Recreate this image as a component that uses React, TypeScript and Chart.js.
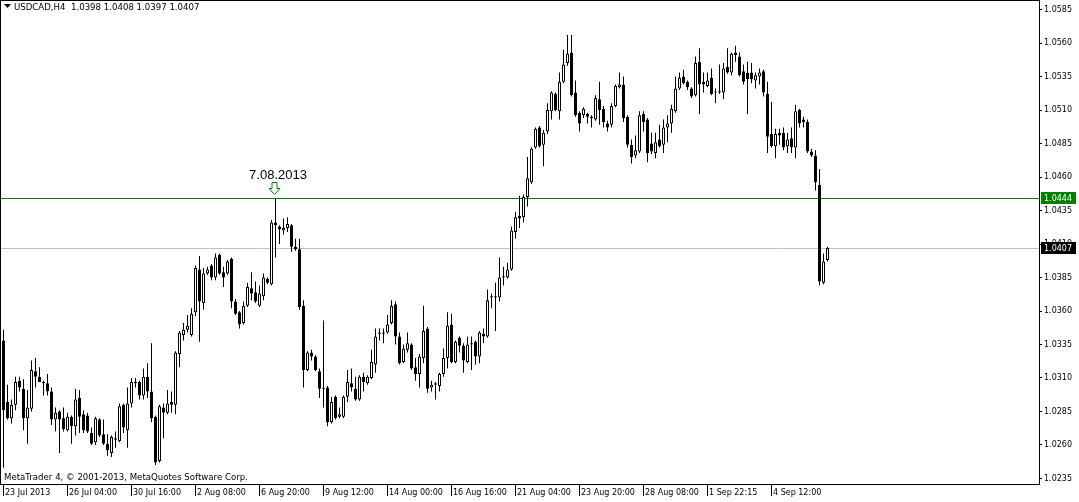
import React, { useEffect, useRef } from "react";
import { Chart, registerables } from "chart.js";

Chart.register(...registerables);

// ---- data -------------------------------------------------------------
const timeLabels = [
  "23 Jul 2013", "26 Jul 04:00", "30 Jul 16:00", "2 Aug 08:00", "6 Aug 20:00",
  "9 Aug 12:00", "14 Aug 00:00", "16 Aug 16:00", "21 Aug 04:00", "23 Aug 20:00",
  "28 Aug 08:00", "1 Sep 22:15", "4 Sep 12:00",
];
const timeLabelBars = [0, 16, 32, 48, 64, 80, 96, 112, 128, 144, 160, 176, 192];

const priceTicks = [
  1.0235, 1.026, 1.0285, 1.031, 1.0335, 1.036, 1.0385, 1.041, 1.0435, 1.046,
  1.0485, 1.051, 1.0535, 1.056, 1.0585,
];

const opens = [
  1.0338,1.0292,1.0280,1.0290,1.0308,1.0302,1.0280,1.0287,1.0315,1.0311,
  1.0307,1.0306,1.0300,1.0279,1.0285,1.0280,1.0271,1.0281,1.0274,1.0295,
  1.0283,1.0282,1.0269,1.0262,1.0279,1.0268,1.0261,1.0254,1.0264,1.0263,
  1.0290,1.0271,1.0291,1.0307,1.0307,1.0297,1.0311,1.0300,1.0281,1.0248,
  1.0288,1.0284,1.0292,1.0290,1.0328,1.0342,1.0346,1.0342,1.0359,1.0391,
  1.0366,1.0388,1.0394,1.0385,1.0402,1.0389,1.0388,1.0399,1.0367,1.0359,
  1.0351,1.0364,1.0377,1.0374,1.0364,1.0371,1.0384,1.0380,1.0426,1.0423,
  1.0420,1.0422,1.0424,1.0408,1.0406,1.0364,1.0316,1.0329,1.0326,1.0315,
  1.0303,1.0303,1.0277,1.0296,1.0281,1.0281,1.0296,1.0306,1.0302,1.0294,
  1.0311,1.0306,1.0310,1.0320,1.0344,1.0344,1.0344,1.0351,1.0365,1.0341,
  1.0322,1.0331,1.0335,1.0318,1.0313,1.0325,1.0347,1.0303,1.0305,1.0304,
  1.0313,1.0325,1.0350,1.0322,1.0340,1.0334,1.0322,1.0335,1.0337,1.0326,
  1.0343,1.0341,1.0370,1.0370,1.0370,1.0385,1.0385,1.0391,1.0419,1.0431,
  1.0430,1.0445,1.0456,1.0482,1.0497,1.0484,1.0494,1.0509,1.0522,1.0509,
  1.0531,1.0545,1.0553,1.0523,1.0508,1.0506,1.0507,1.0505,1.0503,1.0518,
  1.0511,1.0500,1.0499,1.0513,1.0527,1.0529,1.0505,1.0484,1.0476,1.0479,
  1.0507,1.0503,1.0485,1.0478,1.0488,1.0484,1.0497,1.0500,1.0509,1.0526,
  1.0535,1.0531,1.0526,1.0521,1.0546,1.0531,1.0528,1.0534,1.0523,1.0524,
  1.0523,1.0542,1.0538,1.0553,1.0550,1.0539,1.0538,1.0538,1.0532,1.0535,
  1.0539,1.0522,1.0492,1.0483,1.0493,1.0493,1.0483,1.0489,1.0482,1.0510,
  1.0503,1.0501,1.0479,1.0476,1.0454,1.0381,1.0398,
];
const highs = [
  1.0346,1.0305,1.0294,1.0311,1.0311,1.0309,1.0301,1.0323,1.0325,1.0318,
  1.0308,1.0313,1.0303,1.0288,1.0286,1.0288,1.0284,1.0282,1.0302,1.0301,
  1.0286,1.0284,1.0273,1.0281,1.0280,1.0279,1.0268,1.0267,1.0270,1.0291,
  1.0291,1.0303,1.0310,1.0310,1.0308,1.0317,1.0321,1.0336,1.0282,1.0290,
  1.0291,1.0301,1.0300,1.0330,1.0345,1.0351,1.0357,1.0362,1.0394,1.0401,
  1.0392,1.0393,1.0395,1.0403,1.0403,1.0393,1.0398,1.0400,1.0369,1.0360,
  1.0367,1.0381,1.0389,1.0382,1.0379,1.0388,1.0385,1.0428,1.0444,1.0424,
  1.0429,1.0430,1.0425,1.0414,1.0414,1.0368,1.0330,1.0331,1.0327,1.0317,
  1.0353,1.0304,1.0296,1.0297,1.0288,1.0297,1.0316,1.0317,1.0311,1.0312,
  1.0314,1.0312,1.0331,1.0347,1.0347,1.0347,1.0357,1.0368,1.0367,1.0344,
  1.0335,1.0344,1.0336,1.0325,1.0328,1.0364,1.0348,1.0308,1.0307,1.0314,
  1.0332,1.0359,1.0358,1.0338,1.0341,1.0336,1.0341,1.0341,1.0338,1.0345,
  1.0347,1.0376,1.0373,1.0381,1.0400,1.0393,1.0396,1.0423,1.0434,1.0446,
  1.0447,1.0475,1.0482,1.0497,1.0498,1.0495,1.0515,1.0524,1.0523,1.0538,
  1.0555,1.0566,1.0566,1.0532,1.0509,1.0512,1.0508,1.0506,1.0521,1.0531,
  1.0513,1.0502,1.0515,1.0529,1.0538,1.0535,1.0506,1.0488,1.0491,1.0509,
  1.0509,1.0504,1.0493,1.0493,1.0499,1.0503,1.0506,1.0514,1.0535,1.0538,
  1.0540,1.0532,1.0527,1.0550,1.0556,1.0538,1.0538,1.0541,1.0526,1.0544,
  1.0545,1.0556,1.0553,1.0558,1.0553,1.0544,1.0546,1.0545,1.0538,1.0541,
  1.0540,1.0531,1.0516,1.0496,1.0496,1.0497,1.0493,1.0497,1.0514,1.0511,
  1.0505,1.0503,1.0481,1.0480,1.0466,1.0403,1.0408,
];
const lows = [
  1.0243,1.0279,1.0276,1.0286,1.0300,1.0271,1.0261,1.0285,1.0303,1.0307,
  1.0297,1.0297,1.0275,1.0270,1.0254,1.0270,1.0270,1.0261,1.0267,1.0269,
  1.0269,1.0269,1.0260,1.0260,1.0266,1.0260,1.0252,1.0251,1.0258,1.0262,
  1.0269,1.0258,1.0288,1.0303,1.0294,1.0294,1.0295,1.0277,1.0245,1.0247,
  1.0265,1.0283,1.0284,1.0283,1.0318,1.0338,1.0344,1.0341,1.0356,1.0337,
  1.0361,1.0387,1.0383,1.0383,1.0387,1.0378,1.0387,1.0362,1.0357,1.0347,
  1.0350,1.0363,1.0368,1.0366,1.0363,1.0368,1.0380,1.0379,1.0400,1.0410,
  1.0417,1.0419,1.0404,1.0405,1.0361,1.0303,1.0315,1.0323,1.0315,1.0295,
  1.0288,1.0274,1.0276,1.0279,1.0280,1.0280,1.0292,1.0300,1.0293,1.0293,
  1.0300,1.0305,1.0309,1.0314,1.0338,1.0336,1.0343,1.0350,1.0335,1.0320,
  1.0321,1.0329,1.0316,1.0308,1.0303,1.0321,1.0299,1.0300,1.0294,1.0300,
  1.0311,1.0317,1.0321,1.0321,1.0329,1.0314,1.0321,1.0316,1.0320,1.0321,
  1.0336,1.0340,1.0362,1.0345,1.0367,1.0379,1.0384,1.0390,1.0414,1.0422,
  1.0426,1.0438,1.0455,1.0481,1.0482,1.0468,1.0492,1.0503,1.0509,1.0503,
  1.0530,1.0543,1.0520,1.0505,1.0494,1.0504,1.0500,1.0497,1.0502,1.0499,
  1.0497,1.0494,1.0497,1.0512,1.0526,1.0501,1.0482,1.0470,1.0474,1.0478,
  1.0494,1.0471,1.0477,1.0474,1.0482,1.0478,1.0486,1.0493,1.0508,1.0525,
  1.0529,1.0525,1.0519,1.0520,1.0507,1.0523,1.0527,1.0521,1.0515,1.0522,
  1.0518,1.0537,1.0536,1.0546,1.0535,1.0529,1.0507,1.0530,1.0526,1.0529,
  1.0520,1.0478,1.0482,1.0474,1.0484,1.0480,1.0478,1.0478,1.0474,1.0497,
  1.0497,1.0478,1.0475,1.0450,1.0379,1.0380,1.0397,
];
const closes = [
  1.0286,1.0280,1.0290,1.0307,1.0303,1.0280,1.0288,1.0316,1.0311,1.0307,
  1.0306,1.0300,1.0279,1.0284,1.0279,1.0272,1.0281,1.0274,1.0294,1.0281,
  1.0271,1.0270,1.0261,1.0280,1.0267,1.0261,1.0256,1.0266,1.0265,1.0289,
  1.0273,1.0291,1.0307,1.0306,1.0297,1.0311,1.0300,1.0280,1.0247,1.0289,
  1.0284,1.0291,1.0290,1.0329,1.0344,1.0346,1.0349,1.0358,1.0392,1.0367,
  1.0388,1.0391,1.0385,1.0400,1.0388,1.0385,1.0397,1.0367,1.0358,1.0350,
  1.0364,1.0378,1.0373,1.0367,1.0373,1.0385,1.0381,1.0426,1.0424,1.0421,
  1.0422,1.0425,1.0408,1.0406,1.0363,1.0316,1.0329,1.0326,1.0316,1.0302,
  1.0302,1.0277,1.0292,1.0280,1.0283,1.0296,1.0307,1.0303,1.0294,1.0311,
  1.0307,1.0311,1.0322,1.0341,1.0343,1.0343,1.0350,1.0364,1.0341,1.0321,
  1.0332,1.0336,1.0317,1.0313,1.0326,1.0345,1.0302,1.0305,1.0306,1.0313,
  1.0325,1.0349,1.0322,1.0337,1.0334,1.0323,1.0335,1.0336,1.0326,1.0344,
  1.0341,1.0368,1.0371,1.0371,1.0385,1.0386,1.0391,1.0420,1.0430,1.0429,
  1.0445,1.0459,1.0481,1.0496,1.0483,1.0493,1.0510,1.0523,1.0510,1.0531,
  1.0544,1.0552,1.0521,1.0506,1.0500,1.0511,1.0505,1.0504,1.0519,1.0510,
  1.0501,1.0497,1.0513,1.0528,1.0529,1.0504,1.0484,1.0475,1.0480,1.0506,
  1.0501,1.0478,1.0479,1.0486,1.0483,1.0497,1.0500,1.0511,1.0526,1.0534,
  1.0530,1.0527,1.0520,1.0545,1.0529,1.0529,1.0532,1.0522,1.0523,1.0523,
  1.0541,1.0538,1.0552,1.0551,1.0536,1.0531,1.0533,1.0533,1.0536,1.0538,
  1.0523,1.0490,1.0483,1.0492,1.0491,1.0482,1.0488,1.0482,1.0509,1.0500,
  1.0501,1.0479,1.0476,1.0456,1.0382,1.0397,1.0407,
];

const symbolTitle = "USDCAD,H4  1.0398 1.0408 1.0397 1.0407";
const copyright = "MetaTrader 4, \u00A9 2001-2013, MetaQuotes Software Corp.";
const levelPrice = 1.0444;       // green horizontal line
const bidPrice = 1.0407;         // bid line
const markedBar = 68;            // bar marked by the arrow
const markedText = "7.08.2013";

// ---- scale window ------------------------------------------------------
const Y_MAX = 1.05920896;
const Y_MIN = 1.02308955;
const X_MIN = -0.875;
const X_MAX = 258.875;

const FONT = "DejaVu Sans";

const decorPlugin = {
  id: "mt4decor",
  beforeDatasetsDraw(chart: any) {
    const { ctx, chartArea: a, scales } = chart;
    const y = scales.y;
    ctx.save();
    ctx.lineWidth = 1;
    const yg = Math.floor(y.getPixelForValue(levelPrice)) + 0.5;
    ctx.strokeStyle = "#008000";
    ctx.beginPath();
    ctx.moveTo(a.left, yg);
    ctx.lineTo(a.right, yg);
    ctx.stroke();
    const yb = Math.floor(y.getPixelForValue(bidPrice)) + 0.5;
    ctx.strokeStyle = "#c0c0c0";
    ctx.beginPath();
    ctx.moveTo(a.left, yb);
    ctx.lineTo(a.right, yb);
    ctx.stroke();
    ctx.restore();
  },
  afterDraw(chart: any) {
    const { ctx, chartArea: a, scales } = chart;
    const x = scales.x;
    const y = scales.y;
    ctx.save();
    // frame
    ctx.strokeStyle = "#000";
    ctx.lineWidth = 1;
    ctx.strokeRect(a.left + 0.5, a.top + 0.5, a.right - a.left, a.bottom - a.top);

    // header
    ctx.fillStyle = "#000";
    ctx.beginPath();
    ctx.moveTo(4, 4);
    ctx.lineTo(11, 4);
    ctx.lineTo(7.5, 8);
    ctx.closePath();
    ctx.fill();
    ctx.font = `8.6px "${FONT}"`;
    ctx.textAlign = "left";
    ctx.textBaseline = "alphabetic";
    ctx.fillText(symbolTitle, 14, 9.5);

    // footer
    ctx.fillText(copyright, 4, 480);

    // arrow + date text
    const cx = Math.round(x.getPixelForValue(markedBar)) - 1.5;
    const tip = Math.round(y.getPixelForValue(levelPrice)) - 4;
    const top = tip - 12;
    ctx.strokeStyle = "#008000";
    ctx.beginPath();
    ctx.moveTo(cx - 2.5, top + 0.5);
    ctx.lineTo(cx + 2.5, top + 0.5);
    ctx.lineTo(cx + 2.5, top + 6.5);
    ctx.lineTo(cx + 5.5, top + 6.5);
    ctx.lineTo(cx, tip + 0.5);
    ctx.lineTo(cx - 5.5, top + 6.5);
    ctx.lineTo(cx - 2.5, top + 6.5);
    ctx.closePath();
    ctx.stroke();
    ctx.fillStyle = "#000";
    ctx.font = `13px "Liberation Sans"`;
    ctx.textAlign = "center";
    ctx.fillText(markedText, cx + 3.5, top - 3);

    // price boxes
    const boxes: [number, string][] = [
      [levelPrice, "#008000"],
      [bidPrice, "#000000"],
    ];
    ctx.font = `8px "${FONT}"`;
    ctx.textAlign = "left";
    ctx.textBaseline = "middle";
    for (const [p, col] of boxes) {
      const py = Math.floor(y.getPixelForValue(p));
      ctx.fillStyle = col;
      ctx.fillRect(a.right + 2, py - 6, 35, 12);
      ctx.fillStyle = "#fff";
      ctx.fillText(p.toFixed(4), a.right + 5, py + 0.5);
    }
    ctx.restore();
  },
};

export default function App() {
  const ref = useRef<HTMLCanvasElement | null>(null);

  useEffect(() => {
    if (!ref.current) return;
    const bodyColors = opens.map((o, i) => (closes[i] >= o ? "#ffffff" : "#000000"));
    const chart = new Chart(ref.current, {
      type: "bar",
      data: {
        datasets: [
          {
            label: "body",
            data: opens.map((o, i) => ({ x: i, y: [o, closes[i]] })) as any,
            backgroundColor: bodyColors,
            borderColor: "#000000",
            borderWidth: 1,
            borderSkipped: false,
            barThickness: 3,
            grouped: false,
            minBarLength: 1,
            inflateAmount: 0,
            order: 0,
          } as any,
          {
            label: "wick",
            data: lows.map((l, i) => ({ x: i, y: [l, highs[i]] })) as any,
            backgroundColor: "#000000",
            borderWidth: 0,
            barThickness: 1,
            grouped: false,
            minBarLength: 1,
            inflateAmount: 0,
            order: 1,
          } as any,
        ],
      },
      options: {
        responsive: false,
        animation: false,
        devicePixelRatio: 1,
        events: [],
        layout: { padding: 0 },
        plugins: { legend: { display: false }, tooltip: { enabled: false } },
        scales: {
          x: {
            type: "linear",
            min: X_MIN,
            max: X_MAX,
            offset: false,
            afterBuildTicks: (s: any) => {
              s.ticks = timeLabelBars.map((v) => ({ value: v }));
            },
            afterFit: (s: any) => {
              s.height = 18;
              s.paddingLeft = 0;
              s.paddingRight = 0;
            },
            grid: {
              display: true,
              drawOnChartArea: false,
              drawTicks: true,
              tickLength: 12,
              color: "#000000",
              offset: false,
            },
            border: { display: false },
            ticks: {
              color: "#000000",
              font: { family: FONT, size: 8 },
              align: "start",
              padding: -8,
              labelOffset: 1.5,
              autoSkip: false,
              maxRotation: 0,
              minRotation: 0,
              callback: (_v: any, i: number) => timeLabels[i],
            },
          } as any,
          y: {
            type: "linear",
            position: "right",
            min: Y_MIN,
            max: Y_MAX,
            beginAtZero: false,
            afterBuildTicks: (s: any) => {
              s.ticks = priceTicks.map((v) => ({ value: v }));
            },
            afterFit: (s: any) => {
              s.width = 40;
              s.paddingTop = 0;
              s.paddingBottom = 0;
            },
            grid: {
              display: true,
              drawOnChartArea: false,
              drawTicks: true,
              tickLength: 3,
              color: "#000000",
            },
            border: { display: false },
            ticks: {
              color: "#000000",
              font: { family: FONT, size: 8 },
              padding: 2,
              autoSkip: false,
              callback: (v: any) => Number(v).toFixed(4),
            },
          } as any,
        },
      },
      plugins: [decorPlugin],
    });
    return () => chart.destroy();
  }, []);

  return (
    <div style={{ position: "fixed", left: 0, top: 0, width: 1079, height: 502, background: "#ffffff" }}>
      <canvas ref={ref} width={1079} height={502} style={{ display: "block", width: 1079, height: 502 }} />
    </div>
  );
}
